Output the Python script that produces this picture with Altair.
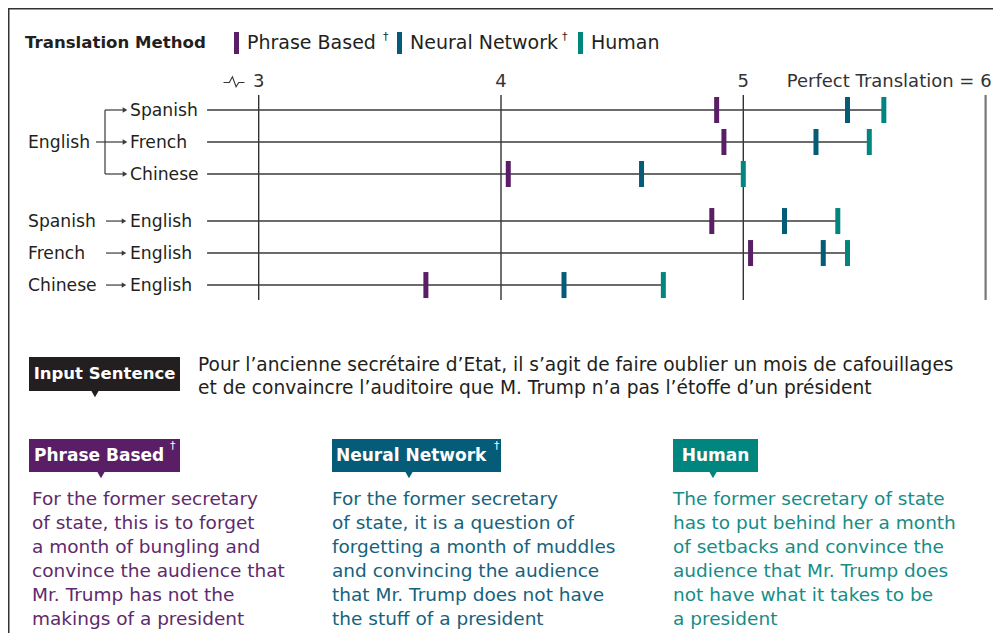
import altair as alt
import pandas as pd

# ---------------- data ----------------
methods = ["Phrase Based", "Neural Network", "Human"]
sources = ["English", "English", "English", "Spanish", "French", "Chinese"]
targets = ["Spanish", "French", "Chinese", "English", "English", "English"]
groups = [0, 0, 0, 1, 1, 1]
phrase_based = [4.89, 4.92, 4.03, 4.87, 5.03, 3.69]
neural_network = [5.43, 5.30, 4.58, 5.17, 5.33, 4.26]
human = [5.58, 5.52, 5.00, 5.39, 5.43, 4.67]
axis_values = [3, 4, 5, 6]
axis_labels = ["3", "4", "5", "Perfect Translation = 6"]
axis_start = 2.787

legend_title = "Translation Method"
input_label = "Input Sentence"
input_sentence = [
    "Pour l’ancienne secrétaire d’Etat, il s’agit de faire oublier un mois de cafouillages",
    "et de convaincre l’auditoire que M. Trump n’a pas l’étoffe d’un président",
]
translations = [
    ["For the former secretary", "of state, this is to forget", "a month of bungling and",
     "convince the audience that", "Mr. Trump has not the", "makings of a president"],
    ["For the former secretary", "of state, it is a question of", "forgetting a month of muddles",
     "and convincing the audience", "that Mr. Trump does not have", "the stuff of a president"],
    ["The former secretary of state", "has to put behind her a month", "of setbacks and convince the",
     "audience that Mr. Trump does", "not have what it takes to be", "a president"],
]
daggered = [True, True, False]

# ---------------- styling / layout ----------------
W, H = 985, 625
FONT = "DejaVu Sans"
INK = "#231f20"
LINE = "#3a3a3a"
mark_colors = ["#5a1e67", "#045c78", "#00867f"]
text_colors = ["#5e2a6c", "#15627e", "#168c87"]

X3_PX, X_UNIT = 250.7, 242.3          # pixel of value 3, pixels per unit
ROW0_PX, ROW_STEP, GROUP_GAP = 102, 32, 0.47
x_scale = alt.Scale(domain=[3 - X3_PX / X_UNIT, 3 + (W - X3_PX) / X_UNIT], nice=False, zero=False)
y_scale = alt.Scale(domain=[-ROW0_PX / ROW_STEP, (H - ROW0_PX) / ROW_STEP], nice=False, zero=False, reverse=True)

rows = pd.DataFrame({
    "source": sources, "target": targets, "group": groups,
    "pos": [i + g * GROUP_GAP for i, g in enumerate(groups)],
    "start": [axis_start] * len(sources),
    "end": [max(a, b, c) for a, b, c in zip(phrase_based, neural_network, human)],
})
scores = pd.DataFrame({
    "pos": list(rows["pos"]) * 3,
    "method": [m for m in methods for _ in sources],
    "score": phrase_based + neural_network + human,
})
ticks = pd.DataFrame({"tick": axis_values, "label": axis_labels})
one = pd.DataFrame({"k": [0]})

X = lambda f: alt.X(f, type="quantitative", scale=x_scale, axis=None)
Y = lambda f: alt.Y(f, type="quantitative", scale=y_scale, axis=None)


def txt(x, y, s, size=18, color=INK, weight="normal", align="left", baseline="middle", lh=None):
    props = dict(font=FONT, fontSize=size, color=color, fontWeight=weight, align=align, baseline=baseline)
    if lh:
        props["lineHeight"] = lh
    return alt.Chart(one).mark_text(**props).encode(x=alt.value(x), y=alt.value(y), text=alt.value(s))


def box(x1, x2, y1, y2, c):
    return alt.Chart(one).mark_rect(color=c).encode(
        x=alt.value(x1), x2=alt.value(x2), y=alt.value(y1), y2=alt.value(y2))


def pointer(x, y, c):
    return alt.Chart(one).mark_point(shape="triangle-down", filled=True, size=55, color=c, opacity=1).encode(
        x=alt.value(x), y=alt.value(y))


def hrule(x1, x2, y, c=LINE, w=1.5):
    return alt.Chart(one).mark_rule(color=c, strokeWidth=w).encode(
        x=alt.value(x1), x2=alt.value(x2), y=alt.value(y))


layers = []

# frame
layers.append(hrule(0, W, 0.75, "#333", 1.5))
layers.append(alt.Chart(one).mark_rule(color="#333", strokeWidth=1.5).encode(
    x=alt.value(0.75), y=alt.value(0), y2=alt.value(H)))

# legend
layers.append(txt(17, 35, legend_title, size=16.6, weight="bold"))
leg_bar_x = [226, 389, 570]
leg_dag_x = [375, 554, None]
for i, m in enumerate(methods):
    layers.append(box(leg_bar_x[i], leg_bar_x[i] + 5, 24, 46, mark_colors[i]))
    layers.append(txt(leg_bar_x[i] + 13, 35, m, size=19))
    if daggered[i]:
        layers.append(txt(leg_dag_x[i], 29, "†", size=11))

# axis: vertical reference lines
base_ticks = alt.Chart(ticks)
layers.append(base_ticks.transform_filter("datum.tick < 6").mark_rule(color="#333", strokeWidth=1.4).encode(
    x=X("tick"), y=alt.value(87), y2=alt.value(292)))
layers.append(base_ticks.transform_filter("datum.tick == 6").mark_rule(color="#777", strokeWidth=2.2).encode(
    x=X("tick"), y=alt.value(87), y2=alt.value(292)))
layers.append(base_ticks.transform_filter("datum.tick < 6").mark_text(
    font=FONT, fontSize=18, color="#333", align="center", baseline="middle").encode(
    x=X("tick"), y=alt.value(73.5), text="label:N"))
layers.append(base_ticks.transform_filter("datum.tick == 6").mark_text(
    font=FONT, fontSize=18, color="#333", align="right", baseline="middle", dx=6).encode(
    x=X("tick"), y=alt.value(73.5), text="label:N"))
# axis break glyph
layers.append(alt.Chart(one).mark_point(
    shape="M-1,0.1L-0.45,0.1L-0.15,-0.45L0.2,0.5L0.45,0.1L1,0.1", filled=False,
    size=440, color="#333", strokeWidth=1.1, opacity=1).encode(x=alt.value(226), y=alt.value(73.5)))

# row lines
layers.append(alt.Chart(rows).mark_rule(color=LINE, strokeWidth=1.6).encode(
    x=X("start"), x2="end", y=Y("pos")))

# score ticks
layers.append(alt.Chart(scores).mark_tick(orient="vertical", thickness=5, size=26, opacity=1).encode(
    x=X("score"), y=Y("pos"),
    color=alt.Color("method:N", scale=alt.Scale(domain=methods, range=mark_colors), legend=None)))

ROWFS = 17.2
# row labels, group 1 (English -> X)
g1 = alt.Chart(rows).transform_filter("datum.group == 0")
g2 = alt.Chart(rows).transform_filter("datum.group == 1")
layers.append(g1.mark_text(font=FONT, fontSize=ROWFS, color=INK, align="left", baseline="middle", dy=1).encode(
    x=alt.value(122), y=Y("pos"), text="target:N"))
layers.append(g1.transform_filter("datum.pos == 1").mark_text(
    font=FONT, fontSize=ROWFS, color=INK, align="left", baseline="middle", dy=1).encode(
    x=alt.value(20), y=Y("pos"), text="source:N"))
layers.append(g1.transform_aggregate(y0="min(pos)", y1="max(pos)").mark_rule(color=LINE, strokeWidth=1.2).encode(
    x=alt.value(97), y=Y("y0"), y2="y1"))
layers.append(g1.mark_rule(color=LINE, strokeWidth=1.2).encode(x=alt.value(97), x2=alt.value(116), y=Y("pos")))
layers.append(g1.transform_filter("datum.pos == 1").mark_rule(color=LINE, strokeWidth=1.2).encode(
    x=alt.value(88), x2=alt.value(97), y=Y("pos")))
layers.append(g1.mark_point(shape="triangle-right", filled=True, size=28, color=LINE, opacity=1).encode(
    x=alt.value(117), y=Y("pos")))

# row labels, group 2 (X -> English)
layers.append(g2.mark_text(font=FONT, fontSize=ROWFS, color=INK, align="left", baseline="middle", dy=1).encode(
    x=alt.value(20), y=Y("pos"), text="source:N"))
layers.append(g2.mark_text(font=FONT, fontSize=ROWFS, color=INK, align="left", baseline="middle", dy=1).encode(
    x=alt.value(122), y=Y("pos"), text="target:N"))
layers.append(g2.mark_rule(color=LINE, strokeWidth=1.2).encode(x=alt.value(98), x2=alt.value(114), y=Y("pos")))
layers.append(g2.mark_point(shape="triangle-right", filled=True, size=28, color=LINE, opacity=1).encode(
    x=alt.value(116), y=Y("pos")))

# input sentence
layers.append(box(21, 172, 349, 383, "#231f20"))
layers.append(pointer(87, 386, "#231f20"))
layers.append(txt(96.5, 366, input_label, size=16.5, color="white", weight="bold", align="center"))
layers.append(txt(190, 363, input_sentence, size=18.6, baseline="alphabetic", lh=23))

# translation boxes and paragraphs
bx = [(21, 172), (324, 493), (665, 750)]
ptr_x = [93, 401, 705]
lab_x = [26, 328, 707.5]
dag_x = [162, 486, None]
par_x = [24, 324, 665]
for i, m in enumerate(methods):
    layers.append(box(bx[i][0], bx[i][1], 431, 464, mark_colors[i]))
    layers.append(pointer(ptr_x[i], 467, mark_colors[i]))
    layers.append(txt(lab_x[i], 447.5, m, size=17, color="white", weight="bold",
                      align="left" if daggered[i] else "center"))
    if daggered[i]:
        layers.append(txt(dag_x[i], 438, "†", size=11, color="white"))
    layers.append(txt(par_x[i], 497, translations[i], size=18.5, color=text_colors[i],
                      baseline="alphabetic", lh=24))

chart = alt.layer(*layers).properties(
    width=W, height=H, padding=0, autosize=alt.AutoSizeParams(type="none"), background="white"
).configure_view(stroke=None)

chart.save("out.html", embed_options={"renderer": "svg", "actions": False})
